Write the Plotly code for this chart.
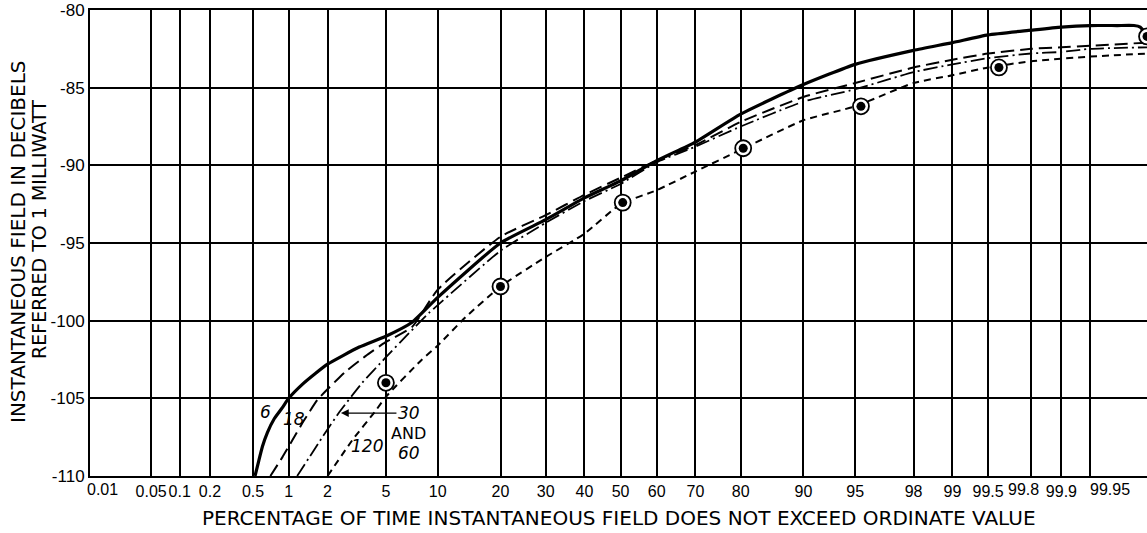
import plotly.graph_objects as go
from statistics import NormalDist

# ---------------- data ----------------
x_tick_pct = [0.01, 0.05, 0.1, 0.2, 0.5, 1, 2, 5, 10, 20, 30, 40, 50, 60, 70, 80,
              90, 95, 98, 99, 99.5, 99.8, 99.9, 99.95]
x_tick_labels = ["0.01", "0.05", "0.1", "0.2", "0.5", "1", "2", "5", "10", "20", "30",
                 "40", "50", "60", "70", "80", "90", "95", "98", "99", "99.5", "99.8",
                 "99.9", "99.95"]
y_tick_vals = [-80, -85, -90, -95, -100, -105, -110]
y_tick_labels = ["-80", "-85", "-90", "-95", "-100", "-105", "-110"]

# curve "6" (heavy solid)
pct_6 = [0.52, 0.557, 0.603, 0.665, 0.762, 0.888, 1.0, 1.285, 1.62, 2.0, 3.35, 5.0,
         7.2, 10, 20, 30, 40, 50, 60, 70, 80, 90, 95, 98, 99, 99.5, 99.8, 99.9, 99.95,
         99.975, 99.984, 99.9865, 99.9882]
db_6 = [-110, -109.1, -108.1, -107.2, -106.3, -105.6, -105.0, -104.1, -103.4, -102.8,
        -101.7, -101.0, -100.1, -98.5, -95.0, -93.5, -92.1, -91.0, -89.7, -88.5, -86.7,
        -84.8, -83.5, -82.6, -82.1, -81.6, -81.3, -81.1, -81.0, -81.0, -81.0, -81.1,
        -81.5]

# curve "18" (long dash)
pct_18 = [0.705, 0.887, 1.07, 1.33, 1.68, 2.06, 2.68, 3.67, 4.95, 7.2, 10, 20, 30, 40,
          50, 60, 70, 80, 90, 95, 98, 99, 99.5, 99.8, 99.9, 99.95, 99.989]
db_18 = [-110, -108.8, -107.7, -106.4, -105.1, -104.3, -103.3, -102.3, -101.4, -100.4,
         -98.0, -94.6, -93.2, -91.9, -90.8, -89.7, -88.7, -87.2, -85.6, -84.7, -83.7,
         -83.2, -82.8, -82.5, -82.4, -82.3, -82.1]

# curve "30 and 60" (dash-dot)
pct_30 = [1.17, 1.455, 1.83, 2.43, 3.51, 4.95, 6.9, 8.97, 10, 20, 30, 40, 50, 60, 70,
          80, 90, 95, 98, 99, 99.5, 99.8, 99.9, 99.95, 99.989]
db_30 = [-110, -108.8, -107.5, -105.9, -104.0, -102.4, -100.8, -99.5, -99.0, -95.5,
         -93.7, -92.3, -91.2, -89.8, -88.8, -87.5, -85.9, -85.1, -84.0, -83.5, -83.1,
         -82.8, -82.7, -82.5, -82.4]

# curve "120" (short dash)
pct_120 = [2.0, 3.0, 4.3, 5.0, 8.2, 10, 13.8, 20, 30, 40, 50, 60, 70, 80, 90, 95, 98,
           99, 99.5, 99.8, 99.95, 99.989]
db_120 = [-110, -107.7, -105.8, -104.9, -102.5, -101.6, -99.8, -97.8, -95.9, -94.4,
          -92.5, -91.6, -90.4, -89.0, -87.1, -86.2, -84.7, -84.2, -83.7, -83.3, -83.0,
          -82.8]

# measured points (circled dots)
pct_pts = [5, 20, 50.6, 80.5, 95.4, 99.6, 99.9888]
db_pts = [-104.0, -97.8, -92.4, -88.9, -86.2, -83.7, -81.7]

# ---------------- helpers ----------------
nd = NormalDist()


def z(p):
    return nd.inv_cdf(p / 100.0)


def zs(ps):
    return [z(p) for p in ps]


FONT = "DejaVu Sans"
TICKFONT = "Liberation Sans"
fig = go.Figure()

common = dict(shape="spline", smoothing=0.5, color="black")
fig.add_trace(go.Scatter(x=zs(pct_6), y=db_6, mode="lines",
                         line=dict(width=3.2, **common), name="6", showlegend=False))
fig.add_trace(go.Scatter(x=zs(pct_18), y=db_18, mode="lines",
                         line=dict(width=2, dash="13px,6px", **common),
                         name="18", showlegend=False))
fig.add_trace(go.Scatter(x=zs(pct_30), y=db_30, mode="lines",
                         line=dict(width=1.8, dash="14px,4px,2px,4px", **common),
                         name="30 and 60", showlegend=False))
fig.add_trace(go.Scatter(x=zs(pct_120), y=db_120, mode="lines",
                         line=dict(width=2, dash="7px,5px", **common),
                         name="120", showlegend=False))
# circled dots
fig.add_trace(go.Scatter(x=zs(pct_pts), y=db_pts, mode="markers",
                         marker=dict(symbol="circle", size=16, color="white",
                                     line=dict(color="black", width=1.8)),
                         showlegend=False))
fig.add_trace(go.Scatter(x=zs(pct_pts), y=db_pts, mode="markers",
                         marker=dict(symbol="circle", size=9, color="black"),
                         showlegend=False))

# curve labels
lab_font = dict(family=FONT, size=17, color="black")
fig.add_annotation(x=z(0.64), y=-105.9, text="<i>6</i>", showarrow=False, font=lab_font)
fig.add_annotation(x=z(1.1), y=-106.3, text="<i>18</i>", showarrow=False, font=lab_font)
fig.add_annotation(x=z(2.5), y=-105.95, text="<i>30</i>", showarrow=True,
                   ax=68, ay=0, arrowhead=2, arrowsize=1.2, arrowwidth=1.3,
                   arrowcolor="black", font=lab_font, standoff=0)
fig.add_annotation(x=z(6.9), y=-107.25, text="AND", showarrow=False,
                   font=dict(family=FONT, size=16, color="black"))
fig.add_annotation(x=z(6.9), y=-108.5, text="<i>60</i>", showarrow=False, font=lab_font)
fig.add_annotation(x=z(3.8), y=-108.1, text="<i>120</i>", showarrow=False, font=lab_font)

# a few tick labels sit off-centre from their grid lines in the original
# (pixel offsets of the label centre); the rest are centred by the axis itself
label_offsets = {"0.01": 12, "99.8": -8, "99.95": 20}
tick_font = dict(family=TICKFONT, size=16, color="black")
tick_text_axis = ["" if t in label_offsets else t for t in x_tick_labels]
for p, t in zip(x_tick_pct, x_tick_labels):
    if t in label_offsets:
        fig.add_annotation(x=z(p), y=0, yref="paper", xanchor="center",
                           yanchor="middle", xshift=label_offsets[t], yshift=-13,
                           showarrow=False, text=t, font=tick_font)

# axis titles
fig.add_annotation(xref="paper", yref="paper", x=0.5, y=0, yanchor="middle",
                   yshift=-42, showarrow=False,
                   text="PERCENTAGE OF TIME INSTANTANEOUS FIELD DOES NOT EXCEED ORDINATE VALUE",
                   font=dict(family=FONT, size=20, color="black"))
fig.add_annotation(xref="paper", yref="paper", x=0, y=0.5, xanchor="center",
                   yanchor="middle", xshift=-72, yshift=1, textangle=-90, showarrow=False,
                   text="INSTANTANEOUS FIELD IN DECIBELS",
                   font=dict(family=FONT, size=20, color="black"))
fig.add_annotation(xref="paper", yref="paper", x=0, y=0.5, xanchor="center",
                   yanchor="middle", xshift=-51, yshift=13, textangle=-90, showarrow=False,
                   text="REFERRED TO 1 MILLIWATT",
                   font=dict(family=FONT, size=19, color="black"))

fig.update_layout(
    width=1147, height=533,
    margin=dict(l=90, r=0, t=10, b=57, autoexpand=False),
    paper_bgcolor="white", plot_bgcolor="white",
    xaxis=dict(range=[z(0.01), 3.69], tickvals=zs(x_tick_pct), ticktext=tick_text_axis,
               showgrid=True, gridcolor="black", gridwidth=1.6, zeroline=False,
               showline=True, linecolor="black", linewidth=2, mirror=True,
               ticks="", tickangle=0, automargin=False, tickfont=tick_font),
    yaxis=dict(range=[-110, -80], tickvals=y_tick_vals, ticktext=y_tick_labels,
               showgrid=True, gridcolor="black", gridwidth=1.6, zeroline=False,
               showline=True, linecolor="black", linewidth=2, automargin=False,
               ticks="", tickfont=dict(family=TICKFONT, size=17, color="black")),
)

# remove the browser's default 8px body margin so the figure fills the window
fig.write_html("out.html", config={"displayModeBar": False},
               post_script="document.body.style.margin='0';")
